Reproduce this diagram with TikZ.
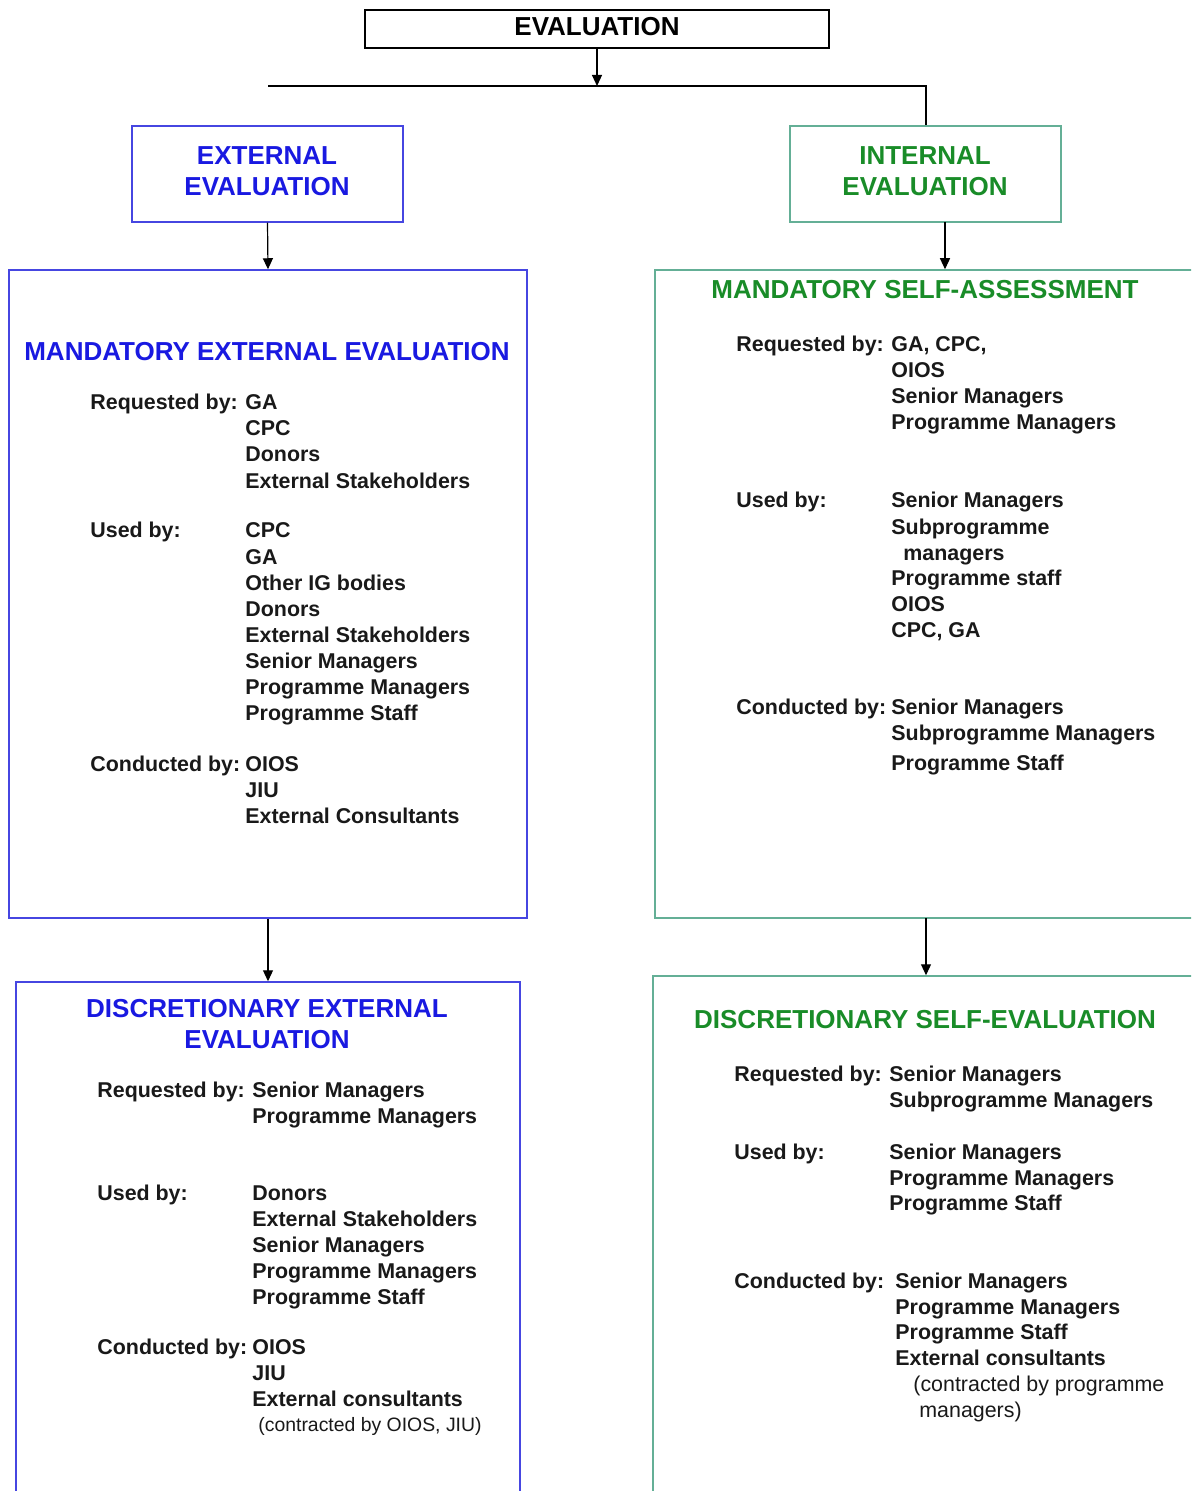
\documentclass[tikz,border=0pt]{standalone}
\usepackage{fontspec}
\setmainfont{Liberation Sans}
\usetikzlibrary{arrows.meta,fit}
\definecolor{tblue}{RGB}{25,25,225}
\definecolor{bblue}{RGB}{70,70,225}
\definecolor{tgreen}{RGB}{25,140,40}
\definecolor{bgreen}{RGB}{100,175,150}
\definecolor{txt}{RGB}{25,25,25}
\newcommand\bl[4]{\node[body] (#1) at (#2,#3+7) {#4};}
\begin{document}
\begin{tikzpicture}[x=0.5pt,y=-0.5pt,
 body/.style={font=\fontsize{10.7}{12}\selectfont\bfseries, text=txt, inner sep=0, anchor=base west},
 smallnote/.style={font=\fontsize{9.7}{11}\selectfont, text=txt, inner sep=0, anchor=base west},
 note/.style={font=\fontsize{10.7}{12}\selectfont, text=txt, inner sep=0, anchor=base west},
 ttl/.style={font=\fontsize{13}{15}\selectfont\bfseries, inner sep=0, anchor=base},
 boxbase/.style={inner sep=0, line width=0.75pt},
 bluebox/.style={boxbase, draw=bblue},
 greenbox/.style={boxbase, draw=bgreen},
 blackbox/.style={boxbase, draw=black},
 conn/.style={draw=black, line width=0.6pt},
 arr/.style={conn, -{Triangle[length=5.5pt,width=5pt]}}]
\clip (0,0) rectangle (1191,1491);
\fill[white] (0,0) rectangle (1191,1491);

% boxes
\node[blackbox, fit={(365,10) (829,48)}] (eval) {};
\node[bluebox, fit={(132,126) (403,222)}] (ext) {};
\node[greenbox, fit={(790,126) (1061,222)}] (int) {};
\node[bluebox, fit={(9,270) (527,918)}] (mee) {};
\node[greenbox, fit={(655,270) (1260,918)}] (msa) {};
\node[bluebox, fit={(16,982) (520,1560)}] (dee) {};
\node[greenbox, fit={(653,976) (1260,1560)}] (dse) {};

% connectors
\coordinate (junc) at (597,86);
\coordinate (hl) at (268,86);
\coordinate (hr) at (926,86);
\draw[arr] (eval.south) -- (junc);
\draw[conn] (hl) -- (hr) -- (hr |- int.north);
\draw[arr] (ext.south) -- (mee.north);
\coordinate (ia) at (945,222);
\draw[arr] (ia) -- (ia |- msa.north);
\draw[arr] (mee.south) -- (dee.north);
\coordinate (ma) at (926,918);
\draw[arr] (ma) -- (ma |- dse.north);

% titles
\node[ttl, text=black] (tEval) at (597,36) {EVALUATION};
\node[ttl, text=tblue] (tExt1) at (267,165) {EXTERNAL};
\node[ttl, text=tblue] (tExt2) at (267,196) {EVALUATION};
\node[ttl, text=tgreen] (tInt1) at (925,165) {INTERNAL};
\node[ttl, text=tgreen] (tInt2) at (925,196) {EVALUATION};
\node[ttl, text=tblue] (tMee) at (267,361) {MANDATORY EXTERNAL EVALUATION};
\node[ttl, text=tgreen] (tMsa) at (925,299) {MANDATORY SELF-ASSESSMENT};
\node[ttl, text=tblue] (tDee1) at (267,1017) {DISCRETIONARY EXTERNAL};
\node[ttl, text=tblue] (tDee2) at (267,1048) {EVALUATION};
\node[ttl, text=tgreen] (tDse) at (925,1028) {DISCRETIONARY SELF-EVALUATION};

% mandatory external evaluation
\bl{aR}{90}{403}{Requested by:}
\bl{aR1}{245}{403}{GA}
\bl{aR2}{245}{429}{CPC}
\bl{aR3}{245}{455}{Donors}
\bl{aR4}{245}{481}{External Stakeholders}
\bl{aU}{90}{531}{Used by:}
\bl{aU1}{245}{531}{CPC}
\bl{aU2}{245}{557}{GA}
\bl{aU3}{245}{583}{Other IG bodies}
\bl{aU4}{245}{609}{Donors}
\bl{aU5}{245}{635}{External Stakeholders}
\bl{aU6}{245}{661}{Senior Managers}
\bl{aU7}{245}{687}{Programme Managers}
\bl{aU8}{245}{713}{Programme Staff}
\bl{aC}{90}{764}{Conducted by:}
\bl{aC1}{245}{764}{OIOS}
\bl{aC2}{245}{790}{JIU}
\bl{aC3}{245}{816}{External Consultants}

% mandatory self-assessment
\bl{bR}{736}{345}{Requested by:}
\bl{bR1}{891}{345}{GA, CPC,}
\bl{bR2}{891}{371}{OIOS}
\bl{bR3}{891}{397}{Senior Managers}
\bl{bR4}{891}{423}{Programme Managers}
\bl{bU}{736}{501}{Used by:}
\bl{bU1}{891}{501}{Senior Managers}
\bl{bU2}{891}{527}{Subprogramme}
\bl{bU3}{903}{553}{managers}
\bl{bU4}{891}{578}{Programme staff}
\bl{bU5}{891}{604}{OIOS}
\bl{bU6}{891}{630}{CPC, GA}
\bl{bC}{736}{707}{Conducted by:}
\bl{bC1}{891}{707}{Senior Managers}
\bl{bC2}{891}{733}{Subprogramme Managers}
\bl{bC3}{891}{763}{Programme Staff}

% discretionary external evaluation
\bl{cR}{97}{1090}{Requested by:}
\bl{cR1}{252}{1090}{Senior Managers}
\bl{cR2}{252}{1116}{Programme Managers}
\bl{cU}{97}{1193}{Used by:}
\bl{cU1}{252}{1193}{Donors}
\bl{cU2}{252}{1219}{External Stakeholders}
\bl{cU3}{252}{1245}{Senior Managers}
\bl{cU4}{252}{1271}{Programme Managers}
\bl{cU5}{252}{1297}{Programme Staff}
\bl{cC}{97}{1347}{Conducted by:}
\bl{cC1}{252}{1347}{OIOS}
\bl{cC2}{252}{1373}{JIU}
\bl{cC3}{252}{1399}{External consultants}
\node[smallnote] (cC4) at (258,1431) {(contracted by OIOS, JIU)};

% discretionary self-evaluation
\bl{dR}{734}{1074}{Requested by:}
\bl{dR1}{889}{1074}{Senior Managers}
\bl{dR2}{889}{1100}{Subprogramme Managers}
\bl{dU}{734}{1152}{Used by:}
\bl{dU1}{889}{1152}{Senior Managers}
\bl{dU2}{889}{1178}{Programme Managers}
\bl{dU3}{889}{1203}{Programme Staff}
\bl{dC}{734}{1281}{Conducted by:}
\bl{dC1}{895}{1281}{Senior Managers}
\bl{dC2}{895}{1307}{Programme Managers}
\bl{dC3}{895}{1332}{Programme Staff}
\bl{dC4}{895}{1358}{External consultants}
\node[note] (dC5) at (913,1391) {(contracted by programme};
\node[note] (dC6) at (919,1417) {managers)};
\end{tikzpicture}
\end{document}
